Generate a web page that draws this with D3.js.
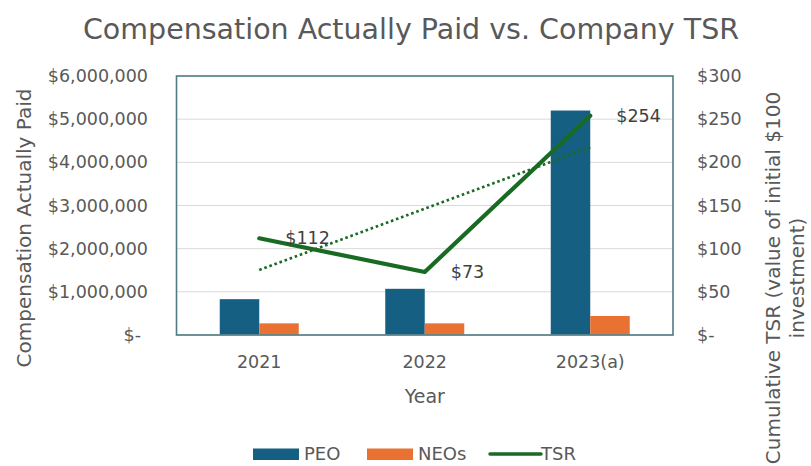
<!DOCTYPE html>
<html><head><meta charset="utf-8">
<script src="https://cdn.jsdelivr.net/npm/d3@7"></script>
<style>
html,body{margin:0;padding:0;background:#fff;}
svg{display:block;font-family:"DejaVu Sans",sans-serif;}
</style></head>
<body><svg id="chart" width="811" height="466"></svg>
<script>
const categories = ["2021", "2022", "2023(a)"];
const peoValues = [830000, 1070000, 5200000];
const neoValues = [270000, 270000, 440000];
const tsrValues = [112, 73, 254];
const leftTicks = [0, 1000000, 2000000, 3000000, 4000000, 5000000, 6000000];
const rightTicks = [0, 50, 100, 150, 200, 250, 300];
const seriesNames = ["PEO", "NEOs", "TSR"];

const colors = {PEO: "#156082", NEOs: "#E97132", TSR: "#196B24"};
const textColor = "#595959";

const svg = d3.select("#chart");
const L = 176.5, R = 673, T = 76, B = 335;

const x = d3.scaleBand().domain(categories).range([L, R]).padding(0);
const yL = d3.scaleLinear().domain([0, 6000000]).range([B, T]);
const yR = d3.scaleLinear().domain([0, 300]).range([B, T]);
const barW = 39.5;
const inner = d3.scaleBand().domain(["PEO", "NEOs"]).range([-barW, barW]);
const cx = c => x(c) + x.bandwidth() / 2;

// gridlines
svg.append("g").selectAll("line").data(leftTicks.filter(d => d > 0 && d < 6000000)).join("line")
  .attr("x1", L).attr("x2", R).attr("y1", d => yL(d)).attr("y2", d => yL(d))
  .attr("stroke", "#d9d9d9").attr("stroke-width", 1);

// bars
const barData = [];
categories.forEach((c, i) => {
  barData.push({c, s: "PEO", v: peoValues[i]});
  barData.push({c, s: "NEOs", v: neoValues[i]});
});
svg.append("g").selectAll("rect").data(barData).join("rect")
  .attr("x", d => cx(d.c) + inner(d.s))
  .attr("width", inner.bandwidth())
  .attr("y", d => yL(d.v))
  .attr("height", d => yL(0) - yL(d.v))
  .attr("fill", d => colors[d.s]);

// baseline
svg.append("line").attr("x1", L).attr("x2", R).attr("y1", B).attr("y2", B)
  .attr("stroke", "#d9d9d9").attr("stroke-width", 1);

// plot border
svg.append("rect").attr("x", L).attr("y", T).attr("width", R - L).attr("height", B - T)
  .attr("fill", "none").attr("stroke", "#4f7b84").attr("stroke-width", 1.6);

// trendline (linear regression of TSR)
const n = tsrValues.length;
const xs = d3.range(1, n + 1);
const mx = d3.mean(xs), my = d3.mean(tsrValues);
const slope = d3.sum(xs.map((xi, i) => (xi - mx) * (tsrValues[i] - my))) / d3.sum(xs.map(xi => (xi - mx) ** 2));
const icpt = my - slope * mx;
svg.append("line")
  .attr("x1", cx(categories[0])).attr("y1", yR(icpt + slope * 1))
  .attr("x2", cx(categories[n - 1])).attr("y2", yR(icpt + slope * n))
  .attr("stroke", colors.TSR).attr("stroke-width", 2.6)
  .attr("stroke-dasharray", "2.6 2.8");

// TSR line
const line = d3.line().x((d, i) => cx(categories[i])).y(d => yR(d));
svg.append("path").datum(tsrValues).attr("d", line)
  .attr("fill", "none").attr("stroke", colors.TSR).attr("stroke-width", 4.2)
  .attr("stroke-linejoin", "round").attr("stroke-linecap", "round");

// data labels
svg.append("g").selectAll("text").data(tsrValues).join("text")
  .attr("x", (d, i) => cx(categories[i]) + 26)
  .attr("y", d => yR(d))
  .attr("dominant-baseline", "central")
  .attr("font-size", 17.5).attr("fill", "#404040")
  .text(d => "$" + d);

// left axis ticks
const fmtL = d => d === 0 ? "$-" : "$" + d3.format(",")(d);
svg.append("g").selectAll("text").data(leftTicks).join("text")
  .attr("x", d => d === 0 ? 141 : 148)
  .attr("y", d => yL(d))
  .attr("text-anchor", "end").attr("dominant-baseline", "central")
  .attr("font-size", 17.5).attr("fill", textColor)
  .text(fmtL);

// right axis ticks
svg.append("g").selectAll("text").data(rightTicks).join("text")
  .attr("x", 697)
  .attr("y", d => yR(d))
  .attr("text-anchor", "start").attr("dominant-baseline", "central")
  .attr("font-size", 17.5).attr("fill", textColor)
  .text(d => d === 0 ? "$-" : "$" + d);

// x tick labels
svg.append("g").selectAll("text").data(categories).join("text")
  .attr("x", d => cx(d)).attr("y", 368)
  .attr("text-anchor", "middle")
  .attr("font-size", 17.5).attr("fill", textColor)
  .text(d => d);

// axis titles
svg.append("text").attr("x", (L + R) / 2).attr("y", 403)
  .attr("text-anchor", "middle").attr("font-size", 19).attr("fill", textColor).text("Year");

svg.append("text").attr("transform", "translate(31,228) rotate(-90)")
  .attr("text-anchor", "middle").attr("font-size", 20).attr("fill", textColor)
  .text("Compensation Actually Paid");

const rt = svg.append("text").attr("transform", "translate(780,278) rotate(-90)")
  .attr("text-anchor", "middle").attr("font-size", 20).attr("fill", textColor);
rt.append("tspan").attr("x", 0).attr("dy", 0).text("Cumulative TSR (value of initial $100");
rt.append("tspan").attr("x", 0).attr("dy", 24).text("investment)");

// title
svg.append("text").attr("x", 411).attr("y", 38.5)
  .attr("text-anchor", "middle").attr("font-size", 28.5).attr("fill", textColor)
  .text("Compensation Actually Paid vs. Company TSR");

// legend
const lg = svg.append("g");
const legendItems = [
  {name: seriesNames[0], x: 253, type: "rect"},
  {name: seriesNames[1], x: 367, type: "rect"},
  {name: seriesNames[2], x: 490, type: "line"}
];
legendItems.forEach(it => {
  if (it.type === "rect") {
    lg.append("rect").attr("x", it.x).attr("y", 448.5).attr("width", 46).attr("height", 11.5)
      .attr("fill", colors[it.name]);
    lg.append("text").attr("x", it.x + 51).attr("y", 460).attr("font-size", 18)
      .attr("fill", textColor).text(it.name);
  } else {
    lg.append("line").attr("x1", it.x).attr("x2", it.x + 51).attr("y1", 454).attr("y2", 454)
      .attr("stroke", colors[it.name]).attr("stroke-width", 3.5).attr("stroke-linecap", "round");
    lg.append("text").attr("x", it.x + 51).attr("y", 460).attr("font-size", 18)
      .attr("fill", textColor).text(it.name);
  }
});
</script></body></html>
